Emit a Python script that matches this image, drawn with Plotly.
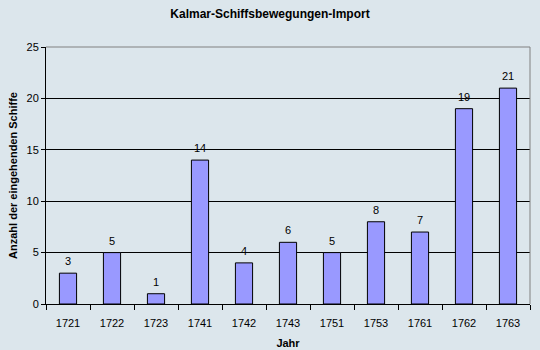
import plotly.graph_objects as go

years = ["1721", "1722", "1723", "1741", "1742", "1743", "1751", "1753", "1761", "1762", "1763"]
ships = [3, 5, 1, 14, 4, 6, 5, 8, 7, 19, 21]

bg = "#dce6ec"
font = "Liberation Sans, Arial, sans-serif"

fig = go.Figure(go.Bar(
    x=years, y=ships,
    marker=dict(color="#9999ff", line=dict(color="black", width=1)),
))
for i, v in enumerate(ships):
    fig.add_annotation(x=i, y=v, xref="x", yref="y", text=str(v), showarrow=False,
                       yanchor="bottom", yshift=4,
                       font=dict(family=font, size=11, color="black"))
fig.update_layout(
    width=540, height=350,
    margin=dict(l=46, r=10, t=47, b=46),
    paper_bgcolor=bg, plot_bgcolor=bg,
    bargap=0.61,
    showlegend=False,
    title=dict(text="<b>Kalmar-Schiffsbewegungen-Import</b>", x=0.5, xanchor="center",
               y=1 - 14 / 350, yanchor="middle",
               font=dict(family=font, size=12, color="black")),
    font=dict(family=font, size=11, color="black"),
)
fig.update_xaxes(
    type="category", categoryorder="array", categoryarray=years,
    showline=True, linecolor="black", linewidth=1, automargin=False,
    ticks="outside", tickson="boundaries", ticklen=5, tickcolor="black",
    showgrid=False, ticklabelstandoff=9,
    title=dict(text="<b>Jahr</b>", font=dict(family=font, size=11), standoff=11),
    tickfont=dict(family=font, size=11),
)
fig.update_yaxes(
    range=[0, 25], dtick=5, showline=True, linecolor="black", linewidth=1,
    ticks="outside", ticklen=4, tickcolor="black", automargin=False,
    showgrid=True, gridcolor="black", gridwidth=1, zeroline=False,
    title=dict(text="<b>Anzahl der eingehenden Schiffe</b>", font=dict(family=font, size=11), standoff=6),
    tickfont=dict(family=font, size=11),
)
fig.add_shape(type="line", xref="paper", yref="paper", x0=0, x1=1, y0=1, y1=1,
              line=dict(color="#808080", width=1), layer="above")
fig.add_shape(type="line", xref="paper", yref="paper", x0=1, x1=1, y0=0, y1=1,
              line=dict(color="#808080", width=1), layer="above")
fig.write_html("out.html")
